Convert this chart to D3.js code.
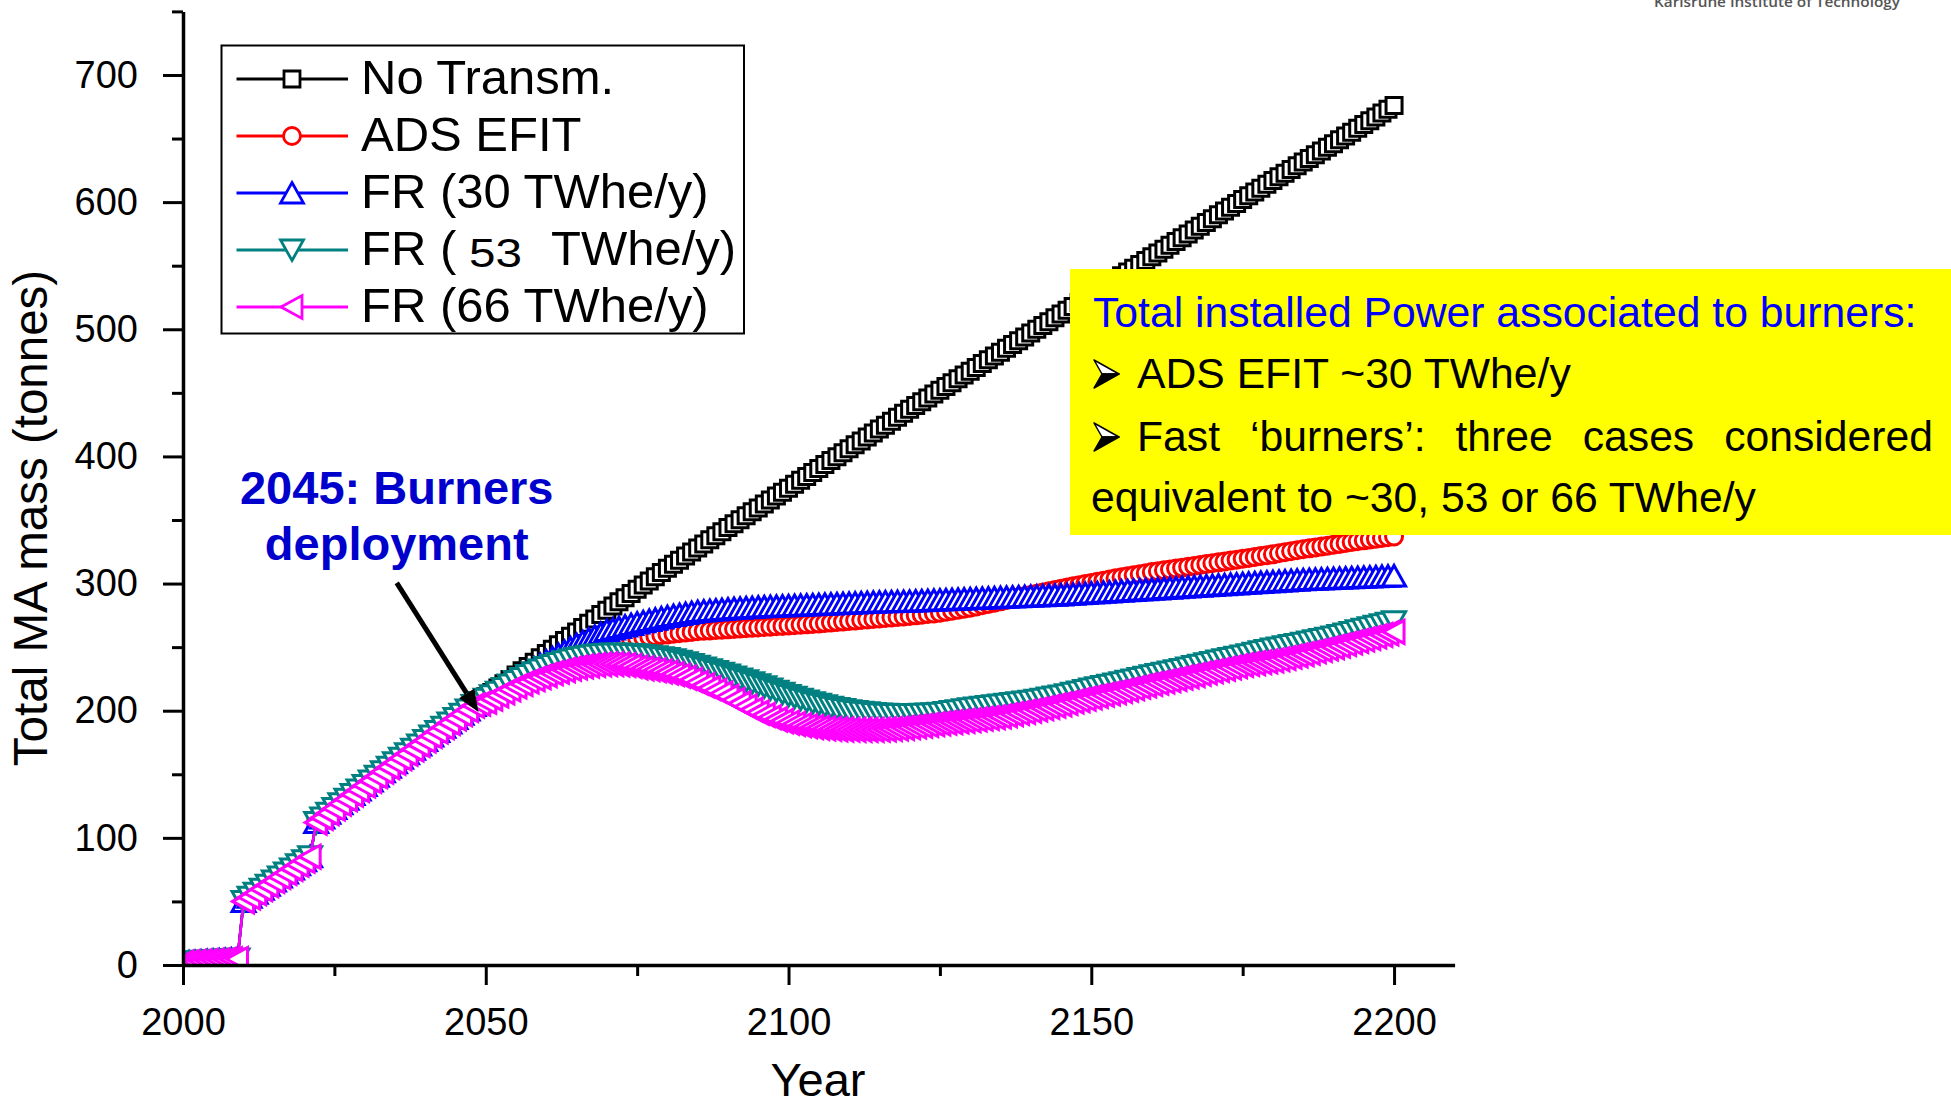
<!DOCTYPE html>
<html>
<head>
<meta charset="utf-8">
<script src="https://cdn.jsdelivr.net/npm/d3@7"></script>
<style>
  body { margin: 0; background: #fff; }
  svg { display: block; font-family: "Liberation Sans", Arial, sans-serif; }
</style>
</head>
<body>
<svg id="chart" width="1951" height="1105"></svg>
<script>
// yearly values, tonnes of minor actinides
var startYear = 2000;

// 2000-2048: all scenarios follow the same path
var sharedMA = [2, 2.3, 2.6, 2.9, 3.2, 3.5, 3.8, 4.1, 4.4, 4.7,
  50, 53.2, 56.4, 59.6, 62.8, 66, 69.2, 72.4, 75.6, 78.8, 82, 85.2,
  112, 115.7, 119.4, 123.1, 126.8, 130.4, 134, 137.6, 141.2, 144.8, 148.4, 152, 155.6,
  159.1, 162.6, 166.1, 169.6, 173.1, 176.6, 180.1, 183.6, 187, 190.4, 193.8, 197.2, 200.6, 204];

// 2049-2200 per scenario
var noTransm = [207.5, 211,
  214.4, 217.8, 221.2, 224.6, 228, 231.4, 234.8, 238.2, 241.6, 245,
  248.4, 251.8, 255.2, 258.6, 262, 265.4, 268.8, 272.2, 275.6, 279,
  282.3, 285.6, 288.9, 292.2, 295.5, 298.8, 302.1, 305.4, 308.7, 312,
  315.2, 318.4, 321.6, 324.8, 328, 331.2, 334.4, 337.6, 340.8, 344,
  347.1, 350.2, 353.3, 356.4, 359.5, 362.6, 365.7, 368.8, 371.9, 375,
  378.1, 381.2, 384.3, 387.4, 390.5, 393.6, 396.7, 399.8, 402.9, 406,
  409.1, 412.2, 415.3, 418.4, 421.5, 424.6, 427.7, 430.8, 433.9, 437,
  440, 443, 446, 449, 452, 455, 458, 461, 464, 467,
  470, 473, 476, 479, 482, 485, 488, 491, 494, 497,
  500, 503, 506, 509, 512, 515, 518, 521, 524, 527,
  530, 533, 536, 539, 542, 545, 548, 551, 554, 557,
  560, 563, 566, 569, 572, 575, 578, 581, 584, 587,
  590, 593, 596, 599, 602, 605, 608, 611, 614, 617,
  619.9, 622.8, 625.7, 628.6, 631.5, 634.4, 637.3, 640.2, 643.1, 646,
  649, 652, 655, 658, 661, 664, 667, 670, 673, 676];

var adsEfit = [206.5, 209,
  211.8, 214.6, 217.4, 220.2, 223, 225.4, 227.8, 230.2, 232.6, 235,
  237, 239, 241, 243, 245, 246.4, 247.8, 249.2, 250.6, 252,
  253, 254, 255, 256, 257, 257.6, 258.2, 258.8, 259.4, 260,
  260.5, 261, 261.5, 262, 262.5, 262.8, 263.1, 263.4, 263.7, 264,
  264.3, 264.6, 264.9, 265.2, 265.5, 265.8, 266.1, 266.4, 266.7, 267,
  267.3, 267.6, 267.9, 268.2, 268.5, 268.9, 269.3, 269.7, 270.1, 270.5,
  270.9, 271.3, 271.7, 272.1, 272.5, 272.9, 273.3, 273.7, 274.1, 274.5,
  275, 275.5, 276, 276.5, 277, 277.8, 278.6, 279.4, 280.2, 281,
  282, 283, 284, 285, 286, 287, 288, 289, 290, 291,
  292, 293, 294, 295, 296, 296.9, 297.8, 298.7, 299.6, 300.5,
  301.4, 302.3, 303.2, 304.1, 305, 305.8, 306.6, 307.4, 308.2, 309,
  309.7, 310.4, 311.1, 311.8, 312.5, 313.2, 313.9, 314.6, 315.3, 316,
  316.7, 317.4, 318.1, 318.8, 319.5, 320.2, 320.9, 321.6, 322.3, 323,
  323.8, 324.6, 325.4, 326.2, 327, 327.7, 328.4, 329.1, 329.8, 330.5,
  331.2, 331.9, 332.6, 333.3, 334, 334.6, 335.2, 335.8, 336.4, 337];

var fr30 = [207, 210,
  213, 216, 219, 222, 225, 227.8, 230.6, 233.4, 236.2, 239,
  241.6, 244.2, 246.8, 249.4, 252, 254.2, 256.4, 258.6, 260.8, 263,
  264.2, 265.4, 266.6, 267.8, 269, 270, 271, 272, 273, 274,
  274.8, 275.6, 276.4, 277.2, 278, 278.4, 278.8, 279.2, 279.6, 280,
  280.3, 280.6, 280.9, 281.2, 281.5, 281.7, 281.9, 282.1, 282.3, 282.5,
  282.7, 282.9, 283.1, 283.3, 283.5, 283.7, 283.9, 284.1, 284.3, 284.5,
  284.7, 284.9, 285.1, 285.3, 285.5, 285.6, 285.7, 285.8, 285.9, 286,
  286.2, 286.4, 286.6, 286.8, 287, 287.2, 287.4, 287.6, 287.8, 288,
  288.2, 288.4, 288.6, 288.8, 289, 289.2, 289.4, 289.6, 289.8, 290,
  290.2, 290.4, 290.6, 290.8, 291, 291.3, 291.6, 291.9, 292.2, 292.5,
  292.8, 293.1, 293.4, 293.7, 294, 294.3, 294.6, 294.9, 295.2, 295.5,
  295.8, 296.1, 296.4, 296.7, 297, 297.3, 297.6, 297.9, 298.2, 298.5,
  298.8, 299.1, 299.4, 299.7, 300, 300.3, 300.6, 300.9, 301.2, 301.5,
  301.8, 302.1, 302.4, 302.7, 303, 303.2, 303.4, 303.6, 303.8, 304,
  304.2, 304.4, 304.6, 304.8, 305, 305.2, 305.4, 305.6, 305.8, 306];

var fr53 = [206.5, 209,
  211.8, 214.6, 217.4, 220.2, 223, 225.4, 227.6, 229.8, 232, 234,
  235.6, 237.1, 238.5, 239.8, 241, 242, 242.9, 243.6, 244.1, 244.5,
  244.6, 244.6, 244.5, 244.3, 244, 243.5, 243, 242.4, 241.7, 241,
  240, 238.9, 237.7, 236.4, 235, 233.6, 232.2, 230.8, 229.4, 228,
  226.5, 225, 223.5, 222, 220.5, 218.8, 217.1, 215.4, 213.7, 212,
  210.5, 209, 207.6, 206.3, 205, 203.9, 202.8, 201.8, 200.9, 200,
  199.4, 198.8, 198.3, 197.9, 197.5, 197.3, 197.1, 197, 197, 197,
  197.1, 197.3, 197.5, 197.7, 198, 198.6, 199.3, 200, 200.8, 201.5,
  202.1, 202.7, 203.3, 203.9, 204.5, 205.1, 205.7, 206.3, 206.9, 207.5,
  208.3, 209.1, 209.9, 210.7, 211.5, 212.6, 213.7, 214.8, 215.9, 217,
  218, 219, 220, 221, 222, 223.1, 224.2, 225.3, 226.4, 227.5,
  228.5, 229.5, 230.5, 231.5, 232.5, 233.6, 234.7, 235.8, 236.9, 238,
  239, 240, 241, 242, 243, 244.1, 245.2, 246.3, 247.4, 248.5,
  249.4, 250.3, 251.2, 252.1, 253, 254, 255, 256, 257, 258,
  259.2, 260.4, 261.6, 262.8, 264, 265.2, 266.4, 267.6, 268.8, 270];

var fr66 = [205.5, 207,
  209.5, 212, 214.4, 216.7, 219, 221, 222.9, 224.7, 226.4, 228,
  229.4, 230.7, 231.9, 233, 234, 234.8, 235.4, 235.9, 236.3, 236.5,
  236.5, 236.3, 235.9, 235.1, 234, 233.3, 232.6, 231.8, 230.9, 230,
  228.8, 227.5, 226, 224.2, 222, 219.9, 217.8, 215.7, 213.5, 211,
  208.4, 205.8, 203.3, 200.8, 198.5, 196.6, 194.8, 193.2, 191.8, 190.5,
  189.5, 188.6, 187.8, 187.1, 186.5, 186, 185.6, 185.3, 185.1, 185,
  184.9, 184.9, 184.9, 184.9, 185, 185.3, 185.6, 186, 186.5, 187,
  187.6, 188.2, 188.8, 189.4, 190, 190.5, 191, 191.5, 192, 192.5,
  193.1, 193.7, 194.3, 194.9, 195.5, 196.4, 197.3, 198.2, 199.1, 200,
  201, 202, 203, 204, 205, 206.1, 207.2, 208.3, 209.4, 210.5,
  211.5, 212.5, 213.5, 214.5, 215.5, 216.6, 217.7, 218.8, 219.9, 221,
  222, 223, 224, 225, 226, 227, 228, 229, 230, 231,
  232, 233, 234, 235, 236, 236.7, 237.4, 238.1, 238.8, 239.5,
  240.5, 241.5, 242.5, 243.5, 244.5, 245.6, 246.7, 247.8, 248.9, 250,
  251.2, 252.4, 253.6, 254.8, 256, 257.2, 258.4, 259.6, 260.8, 262];

var seriesNames = ["No Transm.", "ADS EFIT", "FR (30 TWhe/y)", "FR ( 53  TWhe/y)", "FR (66 TWhe/y)"];
var seriesValues = [noTransm, adsEfit, fr30, fr53, fr66];

var xTicks = [2000, 2050, 2100, 2150, 2200];
var xMinorTicks = [2025, 2075, 2125, 2175];
var yTicks = [0, 100, 200, 300, 400, 500, 600, 700];
var yMinorTicks = [50, 150, 250, 350, 450, 550, 650, 750];

var boxLines = ["Total installed Power associated to burners:",
  "ADS EFIT ~30 TWhe/y",
  "Fast \u2018burners\u2019: three cases considered",
  "equivalent to ~30, 53 or 66 TWhe/y"];

// styles
var colors = ["#000000", "#ff0000", "#0000ff", "#008080", "#ff00ff"];
var shapes = ["square", "circle", "up", "down", "left"];

var svg = d3.select("#chart");

var x = d3.scaleLinear().domain([2000, 2210]).range([183, 1454.6]);
var y = d3.scaleLinear().domain([0, 750]).range([965, 11.4]);

function markerPath(shape) {
  if (shape == "square") return "M-8,-8H8V8H-8Z";
  if (shape == "circle") return "M-8.5,0A8.5,8.5 0 1,0 8.5,0A8.5,8.5 0 1,0 -8.5,0Z";
  if (shape == "up") return "M0,-10.5L11.5,10L-11.5,10Z";
  if (shape == "down") return "M0,10.5L11.5,-10L-11.5,-10Z";
  return "M-11,0L10,-11.5L10,11.5Z";
}

svg.append("defs").append("clipPath").attr("id", "plotclip")
  .append("rect").attr("x", 183).attr("y", 0).attr("width", 1280).attr("height", 965);

var plot = svg.append("g").attr("clip-path", "url(#plotclip)");
var line = d3.line().x(function(d) { return x(d.year); }).y(function(d) { return y(d.value); });

seriesValues.forEach(function(vals, i) {
  var pts = sharedMA.concat(vals).map(function(v, k) { return {year: startYear + k, value: v}; });
  var g = plot.append("g");
  g.append("path").datum(pts)
    .attr("d", line)
    .attr("fill", "none")
    .attr("stroke", colors[i])
    .attr("stroke-width", 2.6);
  g.selectAll("path.mk").data(pts).enter().append("path")
    .attr("class", "mk")
    .attr("transform", function(d) { return "translate(" + x(d.year) + "," + y(d.value) + ")"; })
    .attr("d", markerPath(shapes[i]))
    .attr("fill", "#fff")
    .attr("stroke", colors[i])
    .attr("stroke-width", 3);
});

// axes
function styleAxis(g) {
  g.select(".domain").attr("stroke", "#000").attr("stroke-width", 3.5);
  g.selectAll(".tick line").attr("stroke", "#000").attr("stroke-width", 3);
  g.selectAll(".tick text").attr("fill", "#000").style("font-size", "38px")
    .style("font-family", "'Liberation Sans', Arial, sans-serif");
}

var gx = svg.append("g").attr("transform", "translate(0,965)")
  .call(d3.axisBottom(x).tickValues(xTicks).tickSize(20).tickSizeOuter(0).tickFormat(d3.format("d")));
styleAxis(gx);
gx.selectAll(".tick text").attr("y", 70).attr("dy", null);

var gxm = svg.append("g").attr("transform", "translate(0,965)")
  .call(d3.axisBottom(x).tickValues(xMinorTicks).tickSize(11).tickFormat(""));
gxm.select(".domain").remove();
styleAxis(gxm);

var gy = svg.append("g").attr("transform", "translate(183,0)")
  .call(d3.axisLeft(y).tickValues(yTicks).tickSize(20).tickSizeOuter(0));
styleAxis(gy);
gy.selectAll(".tick text").attr("x", -45);

var gym = svg.append("g").attr("transform", "translate(183,0)")
  .call(d3.axisLeft(y).tickValues(yMinorTicks).tickSize(11).tickFormat(""));
gym.select(".domain").remove();
styleAxis(gym);

svg.append("text")
  .attr("transform", "translate(47,518) rotate(-90)")
  .attr("text-anchor", "middle")
  .style("font-size", "47.5px")
  .text("Total MA mass (tonnes)");

svg.append("text")
  .attr("x", 818).attr("y", 1096)
  .attr("text-anchor", "middle")
  .style("font-size", "47px")
  .text("Year");

// legend
var legend = svg.append("g");
legend.append("rect")
  .attr("x", 221.5).attr("y", 45.5).attr("width", 522.5).attr("height", 288)
  .attr("fill", "#fff").attr("stroke", "#000").attr("stroke-width", 2);

seriesNames.forEach(function(name, i) {
  var ry = 79 + i * 57;
  legend.append("line").attr("x1", 236.5).attr("x2", 348).attr("y1", ry).attr("y2", ry)
    .attr("stroke", colors[i]).attr("stroke-width", 3);
  legend.append("path").attr("transform", "translate(292," + ry + ")")
    .attr("d", markerPath(shapes[i]))
    .attr("fill", "#fff").attr("stroke", colors[i]).attr("stroke-width", 2.8);
  if (i == 3) {
    legend.append("text").attr("x", 361).attr("y", ry + 15).style("font-size", "49px").text("FR (");
    legend.append("text").attr("x", 469).attr("y", ry + 17).style("font-size", "40px")
      .attr("textLength", 53).attr("lengthAdjust", "spacingAndGlyphs").text("53");
    legend.append("text").attr("x", 551).attr("y", ry + 15).style("font-size", "49px").text("TWhe/y)");
  } else {
    legend.append("text").attr("x", 361).attr("y", ry + 15).style("font-size", "49px").text(name);
  }
});

// annotation
var annX = x(2035.3);
svg.append("text").attr("x", annX).attr("y", y(362.6))
  .attr("text-anchor", "middle").attr("fill", "#0000cc")
  .style("font-size", "47px").style("font-weight", "bold")
  .text("2045: Burners");
svg.append("text").attr("x", annX).attr("y", y(318.5))
  .attr("text-anchor", "middle").attr("fill", "#0000cc")
  .style("font-size", "47px").style("font-weight", "bold")
  .text("deployment");

var ax0 = x(2035.3), ay0 = y(300.5), ax1 = x(2048.8), ay1 = y(199);
var ang = Math.atan2(ay1 - ay0, ax1 - ax0);
var headLen = 22, headW = 9;
var bx = ax1 - headLen * Math.cos(ang), by = ay1 - headLen * Math.sin(ang);
svg.append("line").attr("x1", ax0).attr("y1", ay0).attr("x2", bx).attr("y2", by)
  .attr("stroke", "#000").attr("stroke-width", 5);
svg.append("path")
  .attr("d", "M" + ax1 + "," + ay1 +
    "L" + (bx + headW * Math.sin(ang)) + "," + (by - headW * Math.cos(ang)) +
    "L" + (bx - headW * Math.sin(ang)) + "," + (by + headW * Math.cos(ang)) + "Z")
  .attr("fill", "#000");

// yellow note box
var note = svg.append("g");
note.append("rect").attr("x", 1070).attr("y", 269).attr("width", 881).attr("height", 266)
  .attr("fill", "#ffff00");
note.append("text").attr("x", 1093).attr("y", 327).attr("fill", "#0000ff")
  .style("font-size", "42.7px").text(boxLines[0]);

// arrowhead bullets
[388, 451].forEach(function(b) {
  var bg = note.append("g").attr("transform", "translate(1094," + (b - 28) + ")");
  bg.append("path").attr("d", "M0,0L25,14L8,14Z")
    .attr("fill", "#fff").attr("stroke", "#000").attr("stroke-width", 1.5).attr("stroke-linejoin", "round");
  bg.append("path").attr("d", "M8,14L25,14L0,28Z")
    .attr("fill", "#000").attr("stroke", "#000").attr("stroke-width", 1.5).attr("stroke-linejoin", "round");
});
note.append("text").attr("x", 1137).attr("y", 388).style("font-size", "42.7px").text(boxLines[1]);

// justified line
var words = boxLines[2].split(" ");
var wEls = words.map(function(w) {
  return note.append("text").attr("y", 451).style("font-size", "42.7px").text(w);
});
var lineStart = 1137, lineEnd = 1933;
var used = d3.sum(wEls, function(t) { return t.node().getComputedTextLength(); });
var gap = (lineEnd - lineStart - used) / (words.length - 1);
var cx = lineStart;
wEls.forEach(function(t) {
  t.attr("x", cx);
  cx += t.node().getComputedTextLength() + gap;
});
note.append("text").attr("x", 1091).attr("y", 512).style("font-size", "42.7px").text(boxLines[3]);

// logo text at top edge
svg.append("text").attr("x", 1654).attr("y", 7)
  .attr("fill", "#555").attr("textLength", 246).attr("lengthAdjust", "spacingAndGlyphs")
  .style("font-family", "'Open Sans', sans-serif").style("font-size", "15px").style("font-weight", "600")
  .text("Karlsruhe Institute of Technology");
</script>
</body>
</html>
